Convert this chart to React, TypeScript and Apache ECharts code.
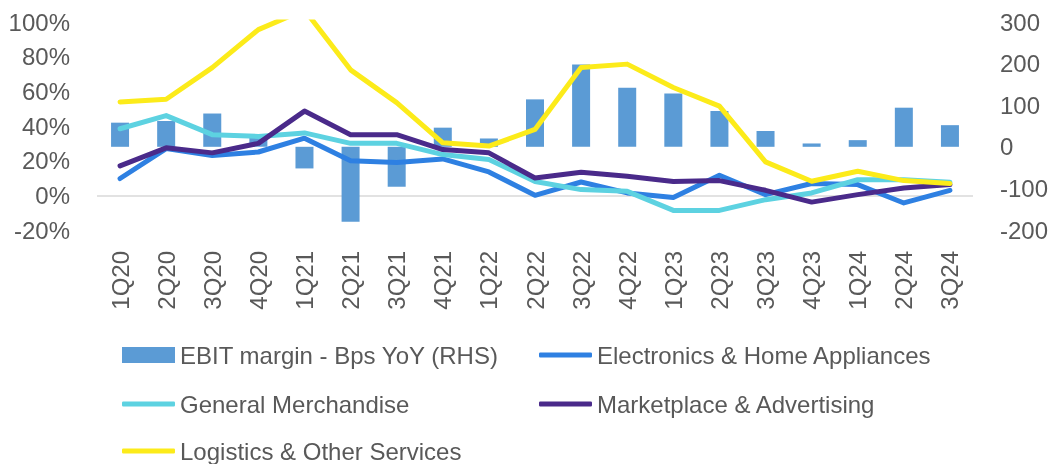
import React, { useEffect, useRef } from "react";
import * as echarts from "echarts";

const categories = ["1Q20","2Q20","3Q20","4Q20","1Q21","2Q21","3Q21","4Q21","1Q22","2Q22","3Q22","4Q22","1Q23","2Q23","3Q23","4Q23","1Q24","2Q24","3Q24"];
const ebitBps = [58, 62, 80, 28, -52, -180, -96, 46, 20, 114, 198, 142, 128, 86, 38, 8, 16, 94, 52];
const electronics = [9.7, 27, 23, 25, 33, 20, 19, 21, 13.5, 0, 7.7, 1.4, -1.2, 11.6, 0.4, 6.8, 6.2, -4.4, 2.9];
const generalMerch = [38.4, 46, 35, 34, 36, 30, 30, 23.5, 20.7, 8, 3.3, 2.3, -8.7, -8.7, -2.5, 1.4, 9, 9, 7.5];
const marketplace = [17, 27.4, 24.5, 30, 48.6, 35, 35, 26.4, 24.5, 10, 13.3, 11, 8, 8.5, 2.9, -3.9, 0.4, 4.2, 6.2];
const logistics = [53.9, 55.4, 73.7, 95.6, 107, 72.4, 53.5, 30.3, 28.4, 38, 73.7, 75.7, 62.2, 51.5, 19.3, 8.1, 13.9, 8.5, 6.8];

const FONT = "Liberation Sans";
const TXT = "#595959";

export default function App() {
  const ref = useRef<HTMLDivElement>(null);
  useEffect(() => {
    if (!ref.current) return;
    const chart = echarts.init(ref.current, undefined, { renderer: "svg" });
    const lineSeries = (name: string, data: number[], color: string, extra: any = {}) => ({
      name,
      type: "line",
      data,
      yAxisIndex: 0,
      symbol: "none",
      clip: true,
      lineStyle: { color, width: 5, cap: "round", join: "round" },
      itemStyle: { color },
      ...extra,
    });
    const legendBase = (name: string, left: number, top: number, isBar: boolean) => ({
      data: [{ name, icon: isBar ? "rect" : "roundRect" }],
      left,
      top,
      padding: 0,
      itemWidth: 53,
      itemHeight: isBar ? 16 : 5,
      textStyle: { color: TXT, fontSize: 24, fontFamily: FONT, lineHeight: 24 },
      selectedMode: false,
    });
    chart.setOption({
      animation: false,
      textStyle: { fontFamily: FONT },
      grid: { left: 97, right: 83, top: 22, height: 208 },
      xAxis: {
        type: "category",
        data: categories,
        axisLine: { show: false, onZero: false },
        axisTick: { show: false },
        axisLabel: { rotate: 90, color: TXT, fontSize: 24, fontFamily: FONT, margin: 21, interval: 0 },
      },
      yAxis: [
        {
          type: "value",
          min: -20,
          max: 100,
          interval: 20,
          splitLine: { show: false },
          axisLine: { show: false },
          axisTick: { show: false },
          axisLabel: { formatter: "{value}%", color: TXT, fontSize: 24, fontFamily: FONT, margin: 27 },
        },
        {
          type: "value",
          min: -200,
          max: 300,
          interval: 100,
          position: "right",
          splitLine: { show: false },
          axisLine: { show: false },
          axisTick: { show: false },
          axisLabel: { color: TXT, fontSize: 24, fontFamily: FONT, margin: 27 },
        },
      ],
      legend: [
        legendBase("EBIT margin - Bps YoY (RHS)", 122, 343, true),
        legendBase("Electronics & Home Appliances", 539, 343, false),
        legendBase("General Merchandise", 122, 392, false),
        legendBase("Marketplace & Advertising", 539, 392, false),
        legendBase("Logistics & Other Services", 122, 439, false),
      ],
      series: [
        {
          name: "EBIT margin - Bps YoY (RHS)",
          type: "bar",
          data: ebitBps,
          yAxisIndex: 1,
          barWidth: 18,
          itemStyle: { color: "#5B9BD5" },
        },
        lineSeries("Electronics & Home Appliances", electronics, "#2E80E2", {
          markLine: {
            silent: true,
            symbol: "none",
            label: { show: false },
            lineStyle: { color: "#D9D9D9", width: 1.5, type: "solid" },
            data: [{ yAxis: 0 }],
            z: 1,
          },
        }),
        lineSeries("General Merchandise", generalMerch, "#5DD2E1"),
        lineSeries("Marketplace & Advertising", marketplace, "#4A2A8A"),
        lineSeries("Logistics & Other Services", logistics, "#FCEB1A"),
      ],
    });
    return () => chart.dispose();
  }, []);
  return <div ref={ref} style={{ position: "fixed", left: 0, top: 0, width: 1056, height: 464 }} />;
}
